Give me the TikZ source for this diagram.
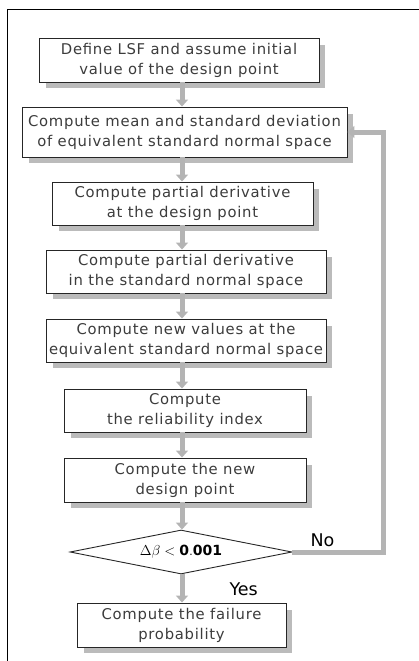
\documentclass[tikz,border=0pt]{standalone}
\usepackage{fontspec}
\setmainfont{DejaVu Sans}[LetterSpace=5]
\newfontfamily\labfont{DejaVu Sans}
\usetikzlibrary{shapes.geometric,arrows.meta}
\definecolor{txt}{HTML}{3C3C3C}
\definecolor{shad}{HTML}{BBBBBB}
\definecolor{arr}{HTML}{B4B4B4}
\tikzset{
  stepbox/.style={draw=black!85, line width=0.9pt, fill=white, rectangle, align=center, text=txt,
    font=\fontsize{14.8}{20}\selectfont, inner sep=0pt},
  flow/.style={draw=arr, line width=5pt, -{Triangle[width=12pt,length=7pt]}},
  lab/.style={font=\labfont\fontsize{17.5}{20}\selectfont, text=black}
}
\begin{document}
\begin{tikzpicture}[x=1pt,y=-1pt]
\useasboundingbox (0,0) rectangle (419,661);
\draw[line width=1pt] (7,661) -- (7,10) -- (419,10);
\coordinate (ax) at (182,0);
% shadows
\foreach \cx/\cy/\w/\h in {179/60/280/44, 184.5/132/325/50, 182.5/203.5/261/43, 186/271.5/280/43, 186/340.5/280/43, 185/410.5/242/43, 185/480/242/44, 181.5/625/209/44}{
  \fill[shad] (\cx-\w/2+7,\cy-\h/2+7) rectangle (\cx+\w/2+6,\cy+\h/2+6);
}
\node[stepbox, minimum width=280, minimum height=44] (b1) at (179,60) {Define LSF and assume initial\\value of the design point};
\node[stepbox, minimum width=325, minimum height=50] (b2) at (184.5,132) {Compute mean and standard deviation\\of equivalent standard normal space};
\node[stepbox, minimum width=261, minimum height=43] (b3) at (182.5,203.5) {Compute partial derivative\\at the design point};
\node[stepbox, minimum width=280, minimum height=43] (b4) at (186,271.5) {Compute partial derivative\\in the standard normal space};
\node[stepbox, minimum width=280, minimum height=43] (b5) at (186,340.5) {Compute new values at the\\equivalent standard normal space};
\node[stepbox, minimum width=242, minimum height=43] (b6) at (185,410.5) {Compute\\the reliability index};
\node[stepbox, minimum width=242, minimum height=44] (b7) at (185,480) {Compute the new\\design point};
\node[diamond, draw=black!85, line width=0.9pt, fill=white, minimum width=222, minimum height=44, aspect=5, inner sep=0pt, font=\fontsize{14}{16}\selectfont] (d) at (181,552) {$\Delta\beta<\mathbf{0.001}$};
\node[stepbox, minimum width=209, minimum height=44] (b8) at (181.5,625) {Compute the failure\\probability};
% arrows
\foreach \a/\b in {b1/b2, b2/b3, b3/b4, b4/b5, b5/b6, b6/b7, b7/d, d/b8}{
  \draw[flow] (\a.south -| ax) -- (\b.north -| ax);
}
\draw[flow] (d.east) -- ++(91,0) |- (b2.east);
\node[lab, anchor=west] (no) at (307,540) {No};
\node[lab, anchor=west] (yes) at (226,589) {Yes};
\end{tikzpicture}
\end{document}
